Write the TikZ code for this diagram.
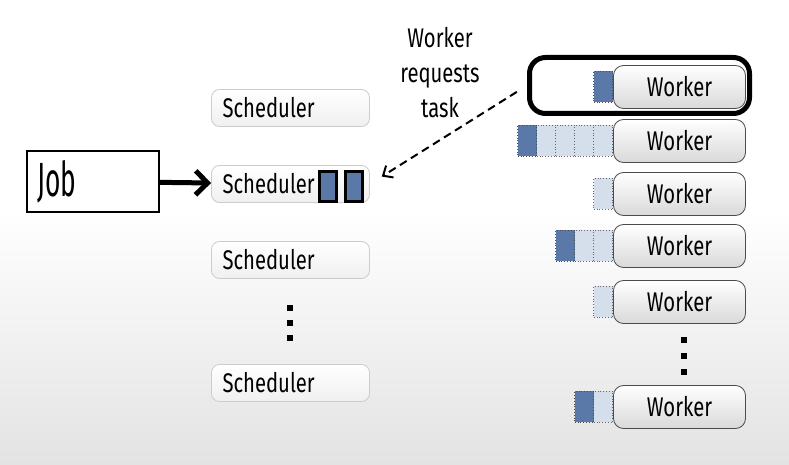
\documentclass[tikz,border=0pt]{standalone}
\usepackage{fontspec}
\setmainfont{Fira Sans}[FakeStretch=0.75]
\newfontfamily\jobfont{Fira Sans}[FakeStretch=0.55]
\usetikzlibrary{arrows.meta}
\definecolor{qdark}{HTML}{5B79A8}
\definecolor{qlight}{HTML}{D5DFEC}

\begin{document}
\begin{tikzpicture}[x=0.5pt,y=-0.5pt,
  font=\fontsize{13.5}{17.5}\selectfont,
  workerbox/.style={draw=gray!60!black,rounded corners=5pt,top color=white,bottom color=gray!30,
    minimum width=66pt,minimum height=21.5pt,inner sep=0pt},
  schedbox/.style={draw=gray!40,rounded corners=4pt,top color=white,bottom color=gray!12,
    text width=68pt,align=left,inner xsep=5.5pt,inner ysep=0pt,minimum height=18.5pt},
  qd/.style={draw=black!70,densely dotted,fill=qdark,minimum width=9.5pt,minimum height=15.5pt,inner sep=0pt},
  ql/.style={draw=black!60,densely dotted,fill=qlight,minimum width=9.5pt,minimum height=15.5pt,inner sep=0pt},
  taskbox/.style={draw,line width=1.5pt,fill=qdark,minimum width=8.5pt,minimum height=15pt,inner sep=0pt},
  dot/.style={fill,minimum size=3pt,inner sep=0pt}]

\useasboundingbox (0,0) rectangle (789,465);
% Background
\fill[white] (0,0) rectangle (789,465);
\shade[top color=white,bottom color=gray!22] (0,210) rectangle (789,465);

% Job
\node[draw,line width=1pt,text width=55pt,inner xsep=5.5pt,minimum height=30.5pt,align=left,
  font=\jobfont\fontsize{24}{26}\selectfont] (job) at (92.5,181.5) {Job};

% Schedulers
\node[schedbox] (s1) at (290.5,108) {Scheduler};
\node[schedbox] (s2) at (290.5,184) {Scheduler};
\node[schedbox] (s3) at (290.5,260) {Scheduler};
\node[schedbox] (s4) at (290.5,383) {Scheduler};
\node[taskbox] (t1) at (328,186.5) {};
\node[taskbox] (t2) at (354,186.5) {};
\foreach \y [count=\i] in {308,323,338}
  \node[dot] (sd\i) at (290,\y) {};

% Workers
\node[draw,line width=2.5pt,rounded corners=8pt,minimum width=110pt,minimum height=28pt] (hl) at (639.5,85.5) {};
\foreach \n/\y in {w1/87,w2/141,w3/194,w4/246,w5/302,w6/407}
  \node[workerbox] (\n) at (679.5,\y) {Worker};
\foreach \y [count=\i] in {340,356,372}
  \node[dot] (wd\i) at (684,\y) {};

% Queues
\foreach \n/\cells in {w1/{qd},w2/{ql,ql,ql,ql,qd},w3/{ql},w4/{ql,ql,qd},w5/{ql},w6/{ql,qd}}
  \foreach \c [count=\k] in \cells
    \node[\c,anchor=east] at ([xshift={-(\k-1)*9.5pt}]\n.west) {};

% Arrows
\draw[line width=2.5pt,-{Straight Barb[length=6pt,width=12pt]}] (job) -- (s2);
\node[align=center] (req) at (440,73) {Worker\\requests\\task};
\draw[line width=1pt,dash pattern=on 4pt off 2.5pt,-{Straight Barb[length=4pt,width=7pt]},
  shorten <=6pt,shorten >=7pt] (hl.west) -- (s2.east);

\end{tikzpicture}
\end{document}
